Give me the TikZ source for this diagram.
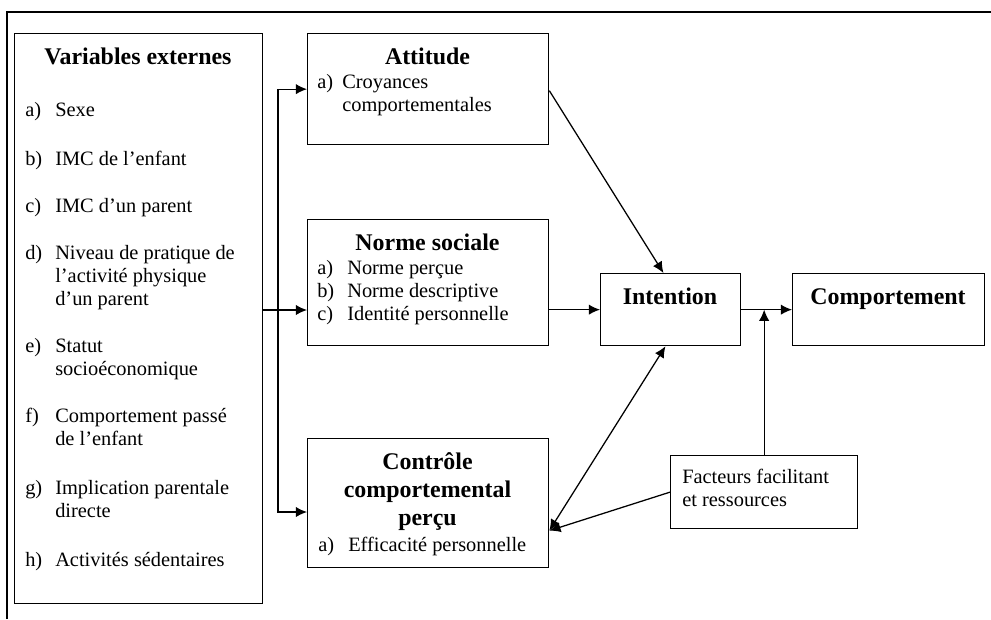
\documentclass[tikz,border=0pt]{standalone}
\usepackage{fontspec}
\setmainfont{Liberation Serif}
\usetikzlibrary{arrows.meta, calc}
\tikzset{
  box/.style  = {draw, line width=0.9pt, anchor=north west, inner sep=0pt},
  ttl/.style  = {font=\fontsize{17}{20}\selectfont\bfseries, anchor=base, inner sep=0pt},
  txt/.style  = {font=\fontsize{14.5}{16.7}\selectfont, anchor=base west, inner sep=0pt},
  flow/.style = {-{Latex[length=2.8mm, width=2.6mm]}, line width=0.9pt},
  both/.style = {{Latex[length=2.8mm, width=2.6mm]}-{Latex[length=2.8mm, width=2.6mm]}, line width=0.9pt},
}
% label + hanging lines
\newcommand{\lst}[3][0.75cm]{\begin{tabular}[t]{@{}p{#1}@{}l@{}}#2&\begin{tabular}[t]{@{}l@{}}#3\end{tabular}\end{tabular}}

\begin{document}
\begin{tikzpicture}[x=0.025cm, y=-0.025cm]
    \useasboundingbox (0,0) rectangle (991,619);
    \draw[line width=1.3pt] (7,619) -- (7,12) -- (991,12);

    % external variables
    \node[box, minimum width=6.2cm, minimum height=14.25cm] (var) at (14,33) {};
    \node[ttl] (varT) at (138,64) {Variables externes};
    \node[txt] (va) at (25,116) {\lst{a)}{Sexe}};
    \node[txt] (vb) at (25,165) {\lst{b)}{IMC de l'enfant}};
    \node[txt] (vc) at (25,212) {\lst{c)}{IMC d'un parent}};
    \node[txt] (vd) at (25,259) {\lst{d)}{Niveau de pratique de\\l'activité physique\\d'un parent}};
    \node[txt] (ve) at (25,352) {\lst{e)}{Statut\\socioéconomique}};
    \node[txt] (vf) at (25,422) {\lst{f)}{Comportement passé\\de l'enfant}};
    \node[txt] (vg) at (25,494) {\lst{g)}{Implication parentale\\directe}};
    \node[txt] (vh) at (25,566) {\lst{h)}{Activités sédentaires}};

    % attitude, norm, control
    \node[box, minimum width=6.025cm, minimum height=2.775cm] (att) at (307,33) {};
    \node[ttl] (attT) at (427.5,64) {Attitude};
    \node[txt] (atta) at (317,88) {\lst[0.625cm]{a)}{Croyances\\comportementales}};

    \node[box, minimum width=6.025cm, minimum height=3.15cm] (norm) at (307,219) {};
    \node[ttl] (normT) at (427.5,250) {Norme sociale};
    \node[txt] (norma) at (317,274) {\lst{a)}{Norme perçue}};
    \node[txt] (normb) at (317,297) {\lst{b)}{Norme descriptive}};
    \node[txt] (normc) at (317,320) {\lst{c)}{Identité personnelle}};

    \node[box, minimum width=6.025cm, minimum height=3.225cm] (ctrl) at (307,438) {};
    \node[ttl] (ctrlT1) at (427.5,469) {Contrôle};
    \node[ttl] (ctrlT2) at (427.5,497) {comportemental};
    \node[ttl] (ctrlT3) at (427.5,525) {perçu};
    \node[txt] (ctrla) at (318,551) {\lst{a)}{Efficacité personnelle}};

    % intention, behaviour, facilitating factors
    \node[box, minimum width=3.5cm, minimum height=1.8cm] (int) at (600,273) {};
    \node[ttl] (intT) at (670,304) {Intention};
    \node[box, minimum width=4.8cm, minimum height=1.8cm] (comp) at (792,273) {};
    \node[ttl] (compT) at (888,304) {Comportement};
    \node[box, minimum width=4.675cm, minimum height=1.825cm] (fac) at (670,455) {};
    \node[txt] (facT) at (682,483) {\begin{tabular}[t]{@{}l@{}}Facteurs facilitant\\et ressources\end{tabular}};

    % connectors
    \coordinate (split) at (278,310);
    \draw[line width=0.9pt] (var.east |- split) -- (split);
    \draw[flow] (split) |- (att.west);
    \draw[flow] (split) -- (norm.west |- split);
    \draw[flow] (split) |- (ctrl.west |- 0,512);

    \draw[flow] ($(att.east)+(0,1.5)$) -- ([xshift=-0.18cm]int.north);
    \draw[flow] (norm.east |- int.west) -- (int.west);
    \coordinate (cin) at ($(ctrl.east)+(0,27.5)$);
    \draw[both] (cin) -- ([xshift=-0.13cm]int.south);
    \draw[flow] (fac.west) -- (cin);
    \draw[flow] (int.east) -- (comp.west |- int.east);
    \draw[flow] (fac.north) -- (fac.north |- int.east);
\end{tikzpicture}
\end{document}
